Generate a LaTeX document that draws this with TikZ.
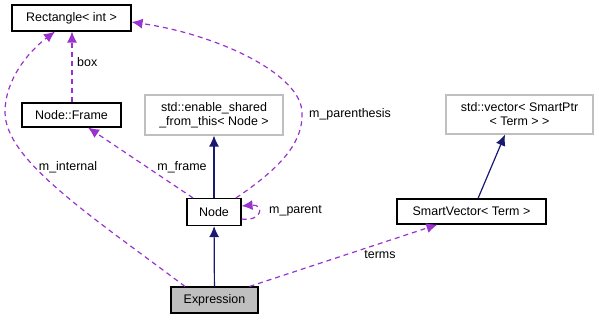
\documentclass[tikz,border=0pt]{standalone}
\usepackage{fontspec}
\setmainfont{Liberation Sans}
\usetikzlibrary{positioning}
\usetikzlibrary{arrows.meta}

\definecolor{usecol}{HTML}{9A32CD}
\definecolor{inhcol}{HTML}{191970}
\definecolor{extgray}{HTML}{BFBFBF}

\begin{document}
\begin{tikzpicture}[x=1bp,y=-1bp,
every node/.style={font=\fontsize{12.5}{14}\selectfont},
classe/.style={draw,line width=1.1bp,fill=white,inner sep=0pt,align=center},
esterna/.style={classe,draw=extgray},
corrente/.style={classe,fill=extgray},
eredita/.style={draw=inhcol,line width=1.2bp,-{Latex[length=11bp,width=10bp]}},
usa/.style={draw=usecol,line width=1.2bp,dash pattern=on 5bp off 4bp,-{Latex[length=11bp,width=10bp]}},
etich/.style={inner sep=0pt}
]
\useasboundingbox (0,0) rectangle (599,320);
%--
\node[classe,minimum width=119bp,minimum height=26bp](rectint) at (71.5,18){Rectangle< int >};
\node[classe,minimum width=99bp,minimum height=24bp](nodeframe) at (71.5,115){Node::Frame};
\node[esterna,minimum width=138bp,minimum height=40bp](shared) at (214,115){std::enable\_shared\\\_from\_this< Node >};
\node[classe,minimum width=54bp,minimum height=27bp](nodecls) at (214,212){Node};
\node[corrente,minimum width=87bp,minimum height=26bp](expr) at (214.5,300){Expression};
%--
\node[esterna,minimum width=147bp,minimum height=39bp](stdvec) at (519.5,114.5){std::vector< SmartPtr\\< Term > >};
\node[classe,minimum width=149bp,minimum height=25bp](smartvec) at (471.5,211.5){SmartVector< Term >};
%--
\draw[eredita] (nodecls) -- (shared);
\draw[eredita] (expr) -- (nodecls);
\draw[eredita] ([xshift=6.5bp]smartvec.north) -- ([xshift=-14.5bp]stdvec.south);
%--
\draw[usa] ([xshift=0.5bp]nodeframe.north) -- ([xshift=0.5bp]rectint.south);
\node[etich,anchor=west](lbox) at (77,62){box};
%--
\draw[usa] ([xshift=-29.5bp]expr.north) .. controls (90,215) and (5,160) .. (5,112)
  .. controls (5,80) and (28,52) .. ([xshift=-16.5bp]rectint.south);
\node[etich](linternal) at (68,167){m\_internal};
%--
\draw[usa] ([xshift=-21bp]nodecls.north) -- ([xshift=16.5bp]nodeframe.south);
\node[etich](lframe) at (182,167){m\_frame};
%--
\draw[usa] ([xshift=22bp]nodecls.north) .. controls (285,165) and (303,140) .. (302,113)
  .. controls (302,75) and (220,35) .. ([yshift=-4bp]rectint.east);
\node[etich](lparen) at (350,114){m\_parenthesis};
%--
\draw[usa] ([yshift=-7bp]nodecls.east) .. controls (262,222) and (265,204) .. ([yshift=6bp]nodecls.east);
\node[etich,anchor=west](lparent) at (269,211){m\_parent};
%--
\draw[usa] ([xshift=35bp]expr.north) -- ([xshift=-34bp]smartvec.south);
\node[etich](lterms) at (380,255){terms};
\end{tikzpicture}
\end{document}
